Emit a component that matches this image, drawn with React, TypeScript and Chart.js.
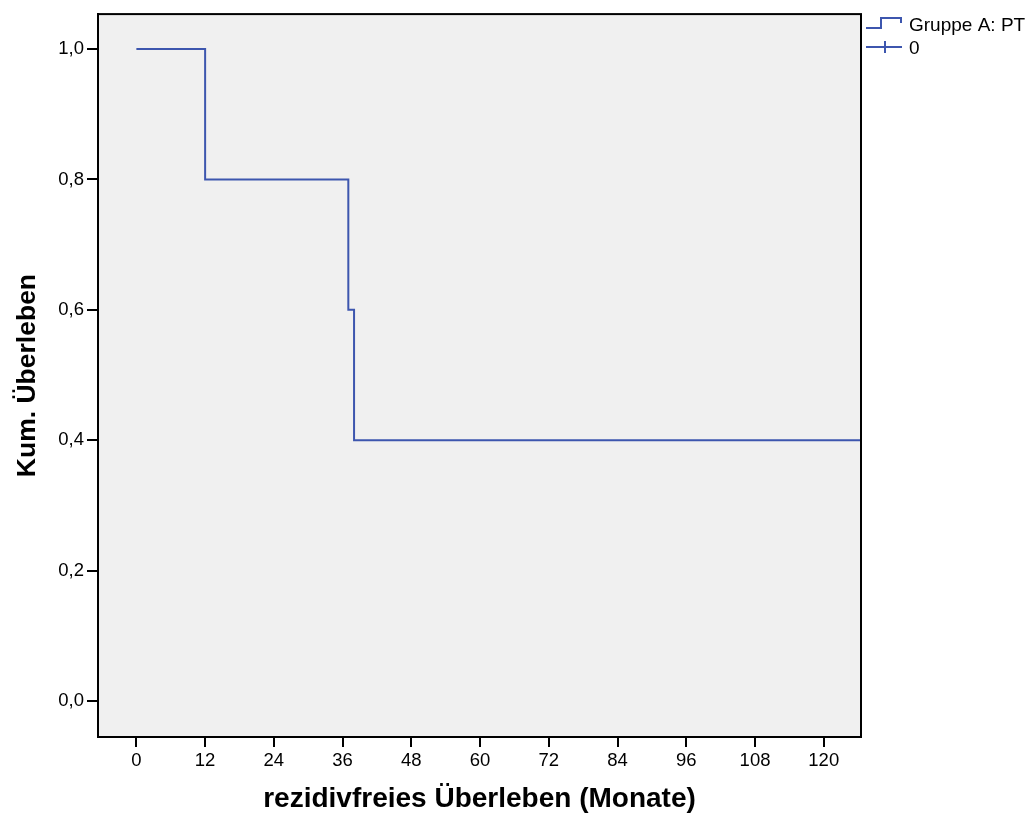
import React, { useEffect, useRef } from "react";
import { Chart, registerables } from "chart.js";

Chart.register(...registerables);

// Kaplan-Meier step curve: event times (months) and cumulative survival
const months = [0, 12, 37, 38, 126.5];
const survival = [1.0, 0.8, 0.6, 0.4, 0.4];

const xTickValues = [0, 12, 24, 36, 48, 60, 72, 84, 96, 108, 120];
const yTickValues = [0, 0.2, 0.4, 0.6, 0.8, 1.0];
const yTickLabels = ["0,0", "0,2", "0,4", "0,6", "0,8", "1,0"];

const seriesLabel = "Gruppe A: PT";
const censorLabel = "0";
const xTitle = "rezidivfreies Überleben (Monate)";
const yTitle = "Kum. Überleben";

const X_MIN = -6.7;
const X_MAX = 126.5;
const Y_MIN = -0.055;
const Y_MAX = 1.0535;

const LINE_COLOR = "#3d56ae";
const FONT = "'Liberation Sans', Arial, sans-serif";

const plotBackground = {
  id: "plotBackground",
  beforeDraw(chart: any) {
    const { ctx, chartArea } = chart;
    ctx.save();
    ctx.fillStyle = "#ffffff";
    ctx.fillRect(0, 0, chart.width, chart.height);
    ctx.fillStyle = "#f0f0f0";
    ctx.fillRect(chartArea.left, chartArea.top, chartArea.right - chartArea.left, chartArea.bottom - chartArea.top);
    ctx.restore();
  },
};

const plotFrame = {
  id: "plotFrame",
  afterDraw(chart: any) {
    const { ctx, chartArea } = chart;
    ctx.save();
    ctx.strokeStyle = "#000000";
    ctx.lineWidth = 2;
    ctx.strokeRect(chartArea.left, chartArea.top, chartArea.right - chartArea.left, chartArea.bottom - chartArea.top);
    ctx.restore();
  },
};

const kmLegend = {
  id: "kmLegend",
  afterDraw(chart: any) {
    const { ctx, chartArea } = chart;
    const x0 = chartArea.right + 5;
    ctx.save();
    ctx.strokeStyle = LINE_COLOR;
    ctx.lineWidth = 2;
    // step symbol
    ctx.beginPath();
    ctx.moveTo(x0, 28);
    ctx.lineTo(x0 + 15, 28);
    ctx.lineTo(x0 + 15, 18);
    ctx.lineTo(x0 + 35, 18);
    ctx.lineTo(x0 + 35, 23);
    ctx.stroke();
    // censor symbol
    ctx.beginPath();
    ctx.moveTo(x0, 47);
    ctx.lineTo(x0 + 36, 47);
    ctx.moveTo(x0 + 19, 41);
    ctx.lineTo(x0 + 19, 53);
    ctx.stroke();
    ctx.fillStyle = "#000000";
    ctx.font = `19px ${FONT}`;
    ctx.textBaseline = "middle";
    ctx.textAlign = "left";
    ctx.fillText(seriesLabel, x0 + 43, 26);
    ctx.fillText(censorLabel, x0 + 43, 49);
    ctx.restore();
  },
};

export default function App() {
  const canvasRef = useRef<HTMLCanvasElement | null>(null);

  useEffect(() => {
    if (!canvasRef.current) return;
    const chart = new Chart(canvasRef.current, {
      type: "line",
      data: {
        datasets: [
          {
            label: seriesLabel,
            data: months.map((m, i) => ({ x: m, y: survival[i] })),
            borderColor: LINE_COLOR,
            borderWidth: 2,
            pointRadius: 0,
            fill: false,
            // horizontal first, then drop at the next event time
            stepped: "before",
            tension: 0,
          },
        ],
      },
      options: {
        animation: false,
        responsive: false,
        devicePixelRatio: 1,
        layout: { padding: { left: 0, top: 12, right: 174, bottom: 0 } },
        plugins: {
          legend: { display: false },
          title: { display: false },
          tooltip: { enabled: false },
        },
        scales: {
          x: {
            type: "linear",
            min: X_MIN,
            max: X_MAX,
            afterBuildTicks: (scale: any) => {
              scale.ticks = xTickValues.map((v) => ({ value: v }));
            },
            afterFit: (scale: any) => {
              scale.height = 88;
            },
            grid: {
              drawOnChartArea: false,
              drawTicks: true,
              tickLength: 10,
              color: "#000000",
              lineWidth: 2,
            },
            border: { display: true, color: "#000000", width: 2 },
            ticks: {
              color: "#000000",
              font: { family: FONT, size: 18.5 },
              padding: 3,
              maxRotation: 0,
              autoSkip: false,
              callback: (v: any) => String(v),
            },
            title: {
              display: true,
              text: xTitle,
              color: "#000000",
              font: { family: FONT, size: 28, weight: "bold" },
              padding: { top: 0, bottom: 8.7 },
            },
          },
          y: {
            type: "linear",
            min: Y_MIN,
            max: Y_MAX,
            afterBuildTicks: (scale: any) => {
              scale.ticks = yTickValues.map((v) => ({ value: v }));
            },
            afterFit: (scale: any) => {
              scale.width = 98;
            },
            grid: {
              drawOnChartArea: false,
              drawTicks: true,
              tickLength: 11,
              color: "#000000",
              lineWidth: 2,
            },
            border: { display: true, color: "#000000", width: 2 },
            ticks: {
              color: "#000000",
              font: { family: FONT, size: 18.5 },
              padding: 3,
              autoSkip: false,
              callback: (_v: any, index: number) => yTickLabels[index],
            },
            title: {
              display: true,
              text: yTitle,
              color: "#000000",
              font: { family: FONT, size: 26.5, weight: "bold" },
              padding: { top: 12.1, bottom: 0 },
            },
          },
        },
      },
      plugins: [plotBackground, plotFrame, kmLegend],
    } as any);
    return () => chart.destroy();
  }, []);

  return (
    <div style={{ position: "absolute", left: 0, top: 0, width: 1035, height: 825, background: "#ffffff" }}>
      <canvas ref={canvasRef} width={1035} height={825} style={{ display: "block", width: 1035, height: 825 }} />
    </div>
  );
}
